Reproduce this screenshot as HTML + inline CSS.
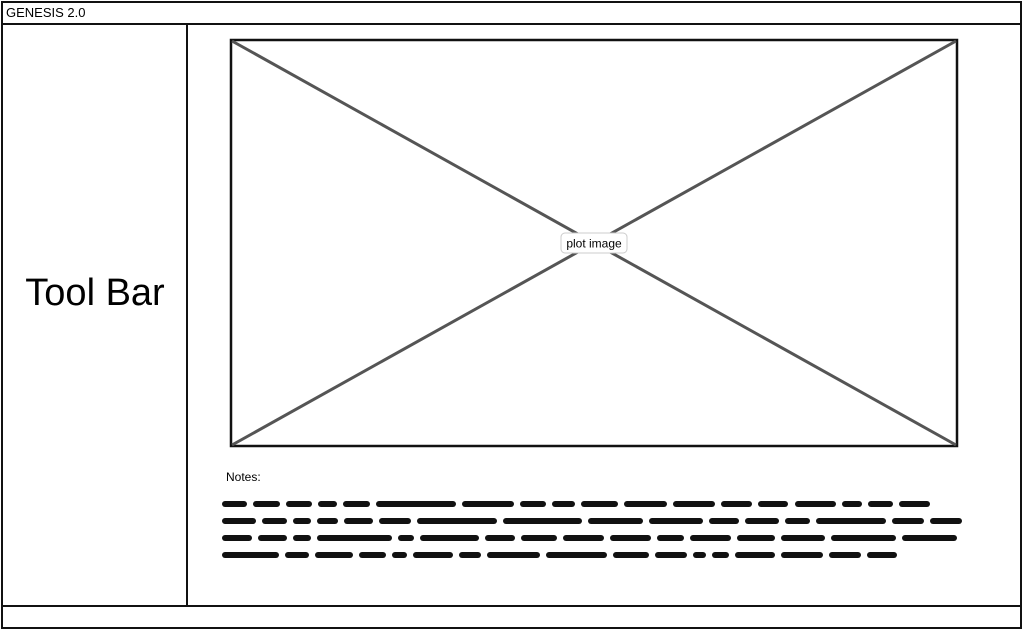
<!DOCTYPE html>
<html><head><meta charset="utf-8"><style>
body{margin:0;width:1024px;height:630px;background:#fff;position:relative;overflow:hidden;font-family:"Liberation Sans",sans-serif;}
.b{position:absolute;border:2px solid #111;box-sizing:border-box;}
.sq{position:absolute;height:6px;background:#111;border-radius:3px;}
</style></head><body>
<div class="b" style="left:1px;top:1px;width:1021px;height:24px;"></div>
<div style="position:absolute;left:6px;top:5px;font-size:13px;color:#000;">GENESIS 2.0</div>
<div class="b" style="left:1px;top:23px;width:187px;height:584px;"></div>
<div style="position:absolute;left:2px;width:186px;top:272px;text-align:center;font-size:38px;color:#000;">Tool Bar</div>
<div class="b" style="left:186px;top:23px;width:836px;height:584px;"></div>
<div class="b" style="left:1px;top:605px;width:1021px;height:24px;"></div>
<svg style="position:absolute;left:0;top:0" width="1024" height="630">
<rect x="231" y="40" width="726" height="406" fill="none" stroke="#111" stroke-width="2.5"/>
<line x1="232" y1="41" x2="956" y2="445" stroke="#555" stroke-width="3"/>
<line x1="956" y1="41" x2="232" y2="445" stroke="#555" stroke-width="3"/>
<rect x="561" y="233" width="66" height="20" rx="4" fill="#fff" stroke="#ccc"/>
<text x="594" y="247.5" text-anchor="middle" font-family="Liberation Sans, sans-serif" font-size="12" fill="#000">plot image</text>
</svg>
<div style="position:absolute;left:226px;top:470px;font-size:12px;color:#000;">Notes:</div>
<div id="notes"></div>
<script>
const lines=[[24,26,26,18,26,78,50,26,22,36,42,40,30,30,40,20,24,30],
[30,22,16,18,26,28,70,70,48,48,26,30,22,62,28,28],
[26,26,16,66,14,52,26,32,36,36,24,36,34,38,58,48],
[54,22,36,26,14,38,20,50,58,34,30,12,16,38,40,30,28]];
const ends=[930,962,957,897];
const notes=document.getElementById('notes');
lines.forEach((ws,i)=>{let x=222;const y=501+i*17;
const tot=ws.reduce((a,b)=>a+b,0);const k=(ends[i]-222-6*(ws.length-1))/tot;
ws.forEach(w=>{const d=document.createElement('div');d.className='sq';


const ww=w*k;
d.style.left=x+'px';d.style.top=y+'px';d.style.width=ww+'px';notes.appendChild(d);x+=ww+6;});});
</script>
</body></html>
